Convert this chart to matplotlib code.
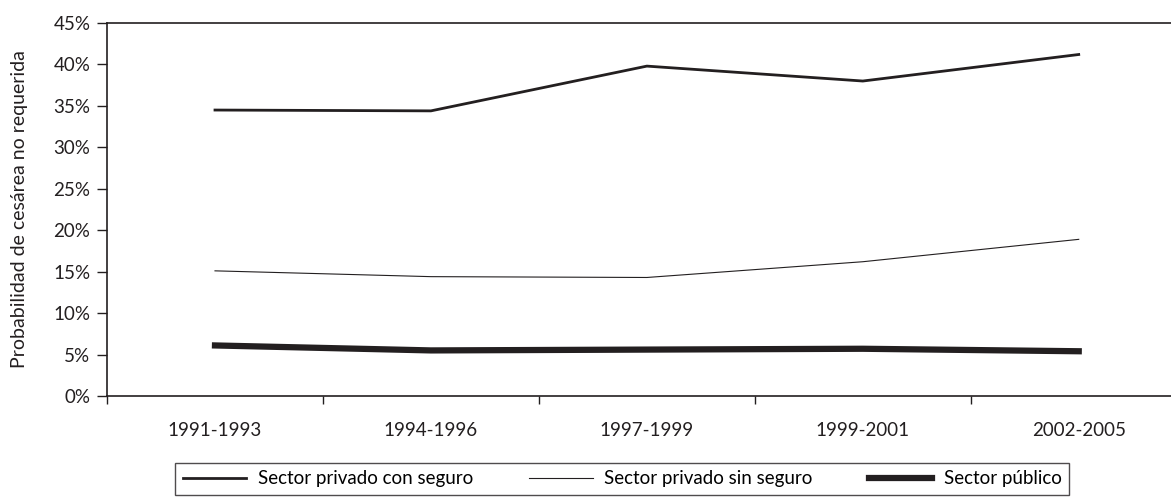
import matplotlib
matplotlib.use("Agg")
import matplotlib.pyplot as plt
from matplotlib.ticker import FixedLocator, FuncFormatter

periods = ["1991-1993", "1994-1996", "1997-1999", "1999-2001", "2002-2005"]
con_seguro = [34.5, 34.4, 39.8, 38.0, 41.2]
sin_seguro = [15.1, 14.4, 14.3, 16.2, 18.9]
publico = [6.1, 5.5, 5.6, 5.7, 5.4]

ink = "#231f20"
plt.rcParams["font.family"] = ["Lato", "DejaVu Sans"]

fig = plt.figure(figsize=(11.71, 4.98), dpi=100)
# axes run past the right edge, as in the cropped original
ax = fig.add_axes([0.0914, 0.2048, 0.922, 0.749])

x = list(range(len(periods)))
ax.plot(x, con_seguro, color=ink, linewidth=2.0, label="Sector privado con seguro")
ax.plot(x, sin_seguro, color=ink, linewidth=0.8, label="Sector privado sin seguro")
ax.plot(x, publico, color=ink, linewidth=4.5, label="Sector público")

ax.set_xlim(-0.5, len(periods) - 0.5)
ax.set_ylim(0, 45)
ax.set_yticks(range(0, 46, 5))
ax.yaxis.set_major_formatter(FuncFormatter(lambda v, p: f"{int(v)}%"))
ax.set_xticks(x)
ax.set_xticklabels(periods)
ax.xaxis.set_minor_locator(FixedLocator([i - 0.5 for i in range(len(periods) + 1)]))
ax.tick_params(axis="x", which="major", length=0, pad=19, labelsize=13.5, colors=ink)
ax.tick_params(axis="x", which="minor", length=5.5, width=1, direction="out", color=ink)
ax.tick_params(axis="y", length=7, width=1, pad=5, direction="out", labelsize=13.5, colors=ink)

ax.spines["right"].set_visible(False)
for s in ["left", "bottom", "top"]:
    ax.spines[s].set_color(ink)
    ax.spines[s].set_linewidth(1.2)

ax.set_ylabel("Probabilidad de cesárea no requerida", fontsize=14, color=ink)
ax.yaxis.set_label_coords(-0.073, 0.5)

leg = fig.legend(loc="lower left", bbox_to_anchor=(0.1415, -0.012), ncol=3,
                 fontsize=13.5, frameon=True, fancybox=False, handlelength=3.4,
                 columnspacing=3.0, handletextpad=0.6, borderpad=0.4)
leg.get_frame().set_edgecolor(ink)
leg.get_frame().set_linewidth(1.0)

fig.savefig("out.png", dpi=100)
